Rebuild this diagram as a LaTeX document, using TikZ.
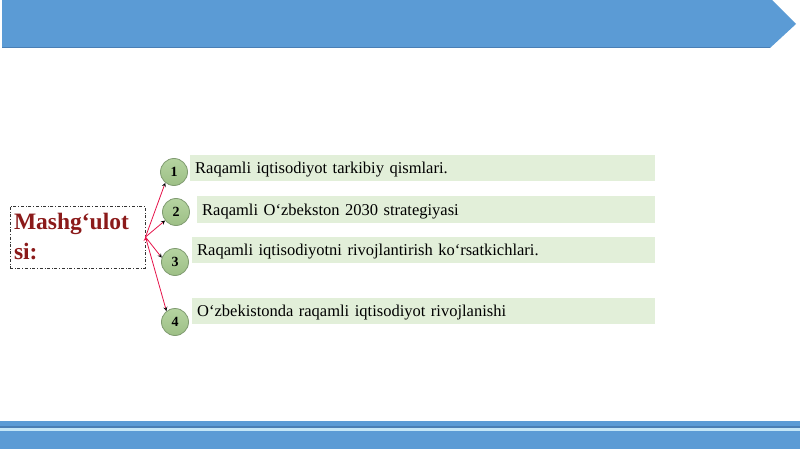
\documentclass[tikz,border=0pt]{standalone}
\usepackage{fontspec}
\setmainfont{Liberation Serif}
\usepackage{tikz}
\usetikzlibrary{positioning}
\definecolor{banner}{HTML}{5B9BD5}
\definecolor{bannerdark}{HTML}{4A7FB5}
\definecolor{lightline}{HTML}{C4E6F7}
\definecolor{barfill}{HTML}{E2EFD9}
\definecolor{numtop}{HTML}{B5D4A0}
\definecolor{numbot}{HTML}{9DBF86}
\definecolor{numline}{HTML}{7F9A70}
\definecolor{titlered}{HTML}{8B1A1A}
\definecolor{arrowred}{HTML}{E5134A}
\begin{document}
\begin{tikzpicture}
                [x=1pt,y=-1pt,
                num/.style={circle,draw=numline,line width=0.8pt,top color=numtop,bottom color=numbot,
                  minimum size=27pt,inner sep=0pt,font=\fontsize{14}{14}\selectfont\bfseries},
                bar/.style={fill=barfill,minimum height=26pt,inner xsep=5pt,anchor=west,
                  text depth=0pt,align=left,font=\fontsize{16.5}{20}\selectfont},
                topic/.style={draw=black!80,dash dot,minimum width=135pt,minimum height=62pt,
                  text width=127pt,inner xsep=4pt,align=left,text=titlered,
                  font=\fontsize{23.5}{30}\selectfont\bfseries}]
                \useasboundingbox (0,0) rectangle (800,449);
                % top and bottom bands
                \fill[banner] (2,0) -- (772,0) -- (796,24) -- (770,48) -- (2,48) -- cycle;
                \draw[bannerdark,line width=1pt] (2,48) -- (770,48);
                \fill[banner] (0,421) rectangle (800,426);
                \fill[bannerdark] (0,425.5) rectangle (800,427.5);
                \fill[lightline] (0,427.5) rectangle (800,430.5);
                \fill[banner] (0,430.5) rectangle (800,449);
                % topic box
                \node[topic] (topic) at (77.5,237) {Mashg‘ulot\\si:};
                \coordinate (o) at (145.5,237);
                % bars
                \node[bar,text width=455pt] (b1) at (190,168) {Raqamli iqtisodiyot tarkibiy qismlari.};
                \node[bar,text width=448pt] (b2) at (197,209.5) {Raqamli O‘zbekston 2030 strategiyasi};
                \node[bar,text width=453pt] (b3) at (192,249.5) {Raqamli iqtisodiyotni rivojlantirish ko‘rsatkichlari.};
                \node[bar,text width=453pt] (b4) at (192,311) {O‘zbekistonda raqamli iqtisodiyot rivojlanishi};
                % numbers
                \node[num] (n1) at (174,172) {1};
                \node[num] (n2) at (176,212) {2};
                \node[num] (n3) at (175,262) {3};
                \node[num] (n4) at (175,322) {4};
                \path[->,>=stealth,draw=arrowred,line width=0.8pt]
                        (o) edge (n1.231)
                            edge (n2.218)
                            edge (n3.162)
                            edge (n4.128);
            \end{tikzpicture}
\end{document}
